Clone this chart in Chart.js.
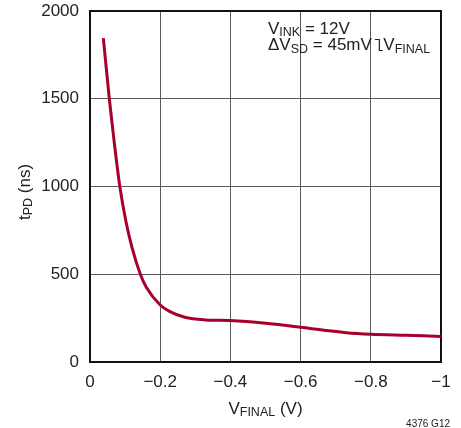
<!DOCTYPE html>
<html>
<head>
<meta charset="utf-8">
<script src="https://cdn.jsdelivr.net/npm/chart.js@4/dist/chart.umd.min.js"></script>
<style>
  html, body { margin: 0; padding: 0; background: #fff; }
  #wrap { width: 461px; height: 428px; position: relative; }
</style>
</head>
<body>
<div id="wrap"><canvas id="c" width="461" height="428"></canvas></div>
<script>
// ---- data ----
const vFinal = [-0.038, -0.055, -0.068, -0.085, -0.102, -0.12, -0.144, -0.16, -0.2, -0.228, -0.27, -0.33, -0.4, -0.5, -0.6, -0.73, -0.8, -0.9, -1.0];
const tPD    = [1845, 1500, 1270, 1000, 805, 650, 497, 428, 325, 287, 255, 240, 236, 221, 198, 167, 158, 152, 146];
const xTicks = [0, -0.2, -0.4, -0.6, -0.8, -1];
const yTicks = [0, 500, 1000, 1500, 2000];

const FONT = "'Liberation Sans', Arial, sans-serif";
const LINE_COLOR = '#a8002c';
const GRID_COLOR = '#5a5a5a';

function fmtX(v) {
  if (Math.abs(v) < 1e-9) return '0';
  return '\u2212' + String(Math.abs(+v.toFixed(2)));
}

function drawParts(ctx, parts, x, y, align) {
  const main = '17px ' + FONT, sub = '12.5px ' + FONT;
  let w = 0;
  parts.forEach(p => { ctx.font = p[1] ? sub : main; w += ctx.measureText(p[0]).width; });
  let cx = align === 'center' ? x - w / 2 : (align === 'right' ? x - w : x);
  ctx.textAlign = 'left';
  ctx.textBaseline = 'alphabetic';
  parts.forEach(p => {
    ctx.font = p[1] ? sub : main;
    ctx.fillText(p[0], cx, y + (p[1] ? 2.5 : 0));
    cx += ctx.measureText(p[0]).width;
  });
  return cx;
}

const textPlugin = {
  id: 'texts',
  beforeDatasetsDraw(chart) {
    const { ctx, chartArea: a } = chart;
    ctx.save();
    ctx.strokeStyle = '#111';
    ctx.lineWidth = 2;
    ctx.strokeRect(a.left, a.top, a.right - a.left, a.bottom - a.top);
    ctx.restore();
  },
  afterDraw(chart) {
    const { ctx, chartArea: a } = chart;
    ctx.save();
    ctx.fillStyle = '#222';
    drawParts(ctx, [['V', false], ['FINAL', true], [' (V)', false]], (a.left + a.right) / 2, 413.5, 'center');
    ctx.save();
    ctx.translate(29.5, 192);
    ctx.rotate(-Math.PI / 2);
    drawParts(ctx, [['t', false], ['PD', true], [' (ns)', false]], 0, 0, 'center');
    ctx.restore();
    drawParts(ctx, [['V', false], ['INK', true], [' = 12V', false]], 268, 33.5, 'left');
    const endX = drawParts(ctx, [['\u0394V', false], ['SD', true], [' = 45mV', false]], 268, 50, 'left');
    const sx = endX + 3;
    ctx.strokeStyle = '#222';
    ctx.lineWidth = 1.2;
    ctx.beginPath();
    ctx.moveTo(sx, 39.5);
    ctx.lineTo(sx + 4.5, 39.5);
    ctx.lineTo(sx + 4.5, 50.5);
    ctx.lineTo(sx + 8, 50.5);
    ctx.stroke();
    drawParts(ctx, [['V', false], ['FINAL', true]], sx + 8.5, 50, 'left');
    ctx.font = '10px ' + FONT;
    ctx.textAlign = 'right';
    ctx.textBaseline = 'alphabetic';
    ctx.fillText('4376 G12', 450, 426.5);
    ctx.restore();
  }
};

new Chart(document.getElementById('c'), {
  type: 'line',
  data: {
    datasets: [{
      data: vFinal.map((x, i) => ({ x: x, y: tPD[i] })),
      borderColor: LINE_COLOR,
      borderWidth: 3,
      pointRadius: 0,
      cubicInterpolationMode: 'monotone',
      fill: false
    }]
  },
  options: {
    responsive: false,
    animation: false,
    devicePixelRatio: 1,
    layout: { padding: { left: 0, right: 20, top: 11, bottom: 0 } },
    plugins: { legend: { display: false }, tooltip: { enabled: false } },
    scales: {
      x: {
        type: 'linear',
        reverse: true,
        min: -1, max: 0,
        afterFit(s) { s.height = 66; s.paddingLeft = 0; s.paddingRight = 0; },
        afterBuildTicks(s) { s.ticks = xTicks.map(v => ({ value: v })); },
        grid: { color: GRID_COLOR, lineWidth: 1, drawTicks: false },
        border: { display: false },
        ticks: {
          color: '#222',
          font: { family: FONT, size: 17 },
          padding: 10,
          maxRotation: 0,
          autoSkip: false,
          callback: v => fmtX(v)
        }
      },
      y: {
        type: 'linear',
        min: 0, max: 2000,
        afterFit(s) { s.width = 90; s.paddingTop = 0; s.paddingBottom = 0; },
        afterBuildTicks(s) { s.ticks = yTicks.map(v => ({ value: v })); },
        grid: { color: GRID_COLOR, lineWidth: 1, drawTicks: false },
        border: { display: false },
        ticks: {
          color: '#222',
          font: { family: FONT, size: 17 },
          padding: 11,
          autoSkip: false,
          callback: v => String(v)
        }
      }
    }
  },
  plugins: [textPlugin]
});
</script>
</body>
</html>
